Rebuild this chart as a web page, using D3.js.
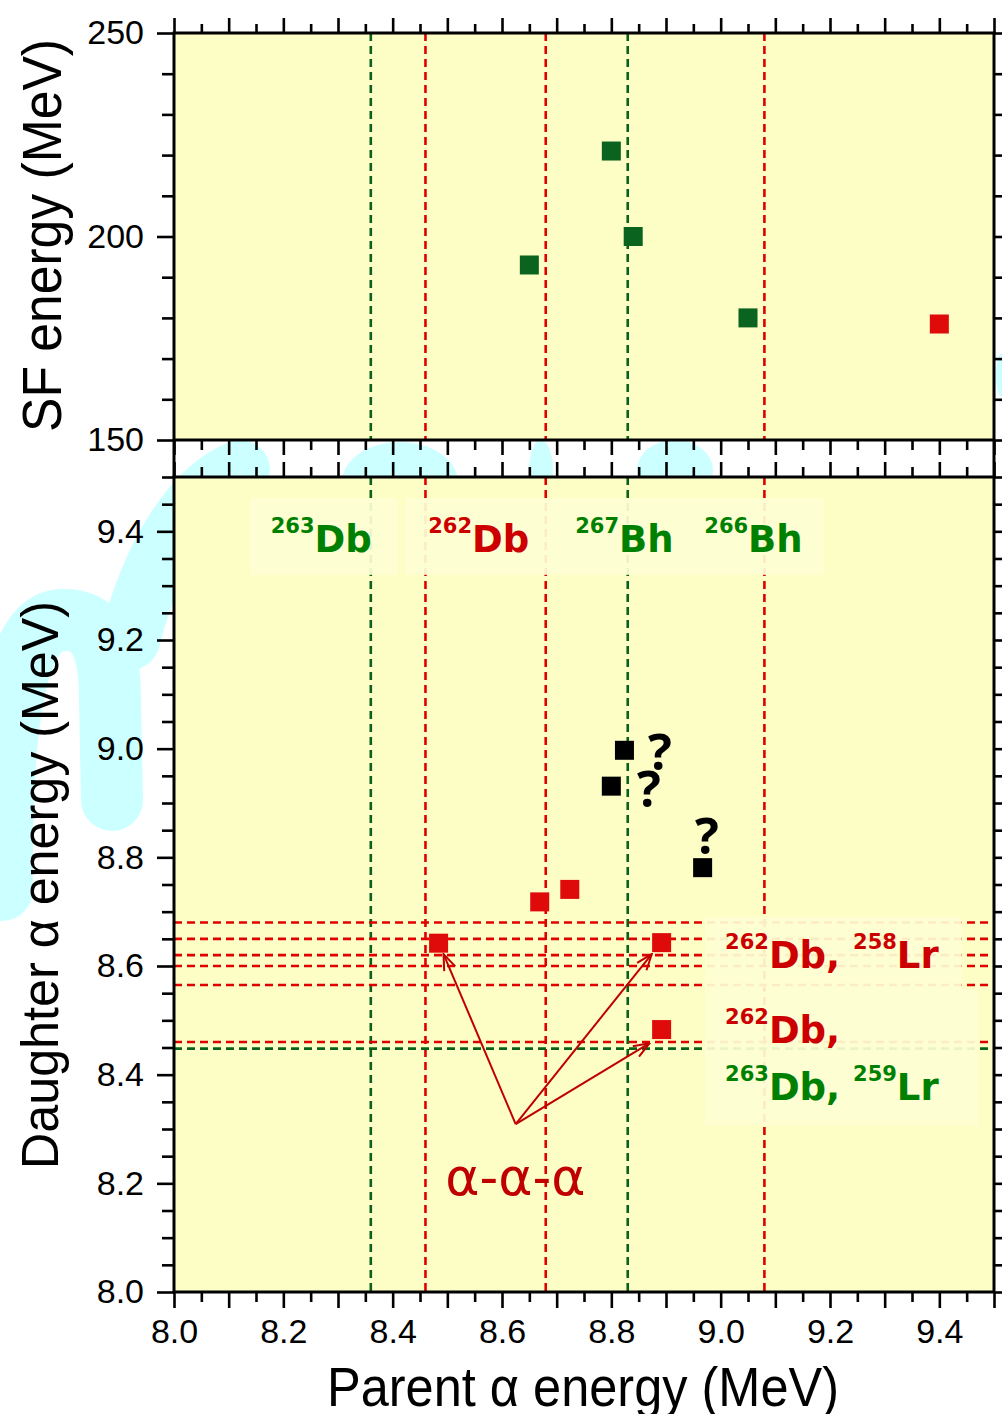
<!DOCTYPE html>
<html>
<head>
<meta charset="utf-8">
<script src="https://cdn.jsdelivr.net/npm/d3@7"></script>
<style>
  body { margin: 0; background: #fff; }
  svg { display: block; }
</style>
</head>
<body>
<svg id="chart" width="1002" height="1414"></svg>
<script>
// SF energy / daughter alpha energy vs parent alpha energy

// SF events (parent alpha MeV, SF energy MeV)
const sfGreen = [[8.65, 193], [8.80, 221], [8.84, 200], [9.05, 180]];
const sfRed = [[9.40, 178.5]];

// alpha-alpha correlations (parent MeV, daughter MeV)
const chainRed = [[8.484, 8.642], [8.892, 8.643], [8.892, 8.483], [8.669, 8.718], [8.724, 8.741]];
const chainBlack = [[8.824, 8.997], [8.80, 8.931], [8.967, 8.781]];

// known alpha lines
const parentGreen = [8.36, 8.83];
const parentRed = [8.46, 8.68, 9.08];
const daughterRed = [8.68, 8.65, 8.62, 8.60, 8.565, 8.46];
const daughterGreen = [8.448];

// alpha-alpha-alpha arrows
const arrowFrom = [8.625, 8.309];
const arrowTo = [[8.493, 8.622], [8.874, 8.622], [8.870, 8.458]];

// tick values
const xTicks = d3.range(0, 31).map(i => +(8 + i * 0.05).toFixed(2));
const daTicks = d3.range(0, 31).map(i => +(8 + i * 0.05).toFixed(2));
const sfTicks = d3.range(150, 251, 10);

// isotope labels: [text, isSup] parts, anchored at (parent, daughter)
const isoLabels = [
  {parts: [["263", 1], ["Db", 0]], at: [8.177, 9.362], green: true},
  {parts: [["262", 1], ["Db", 0]], at: [8.465, 9.362], green: false},
  {parts: [["267", 1], ["Bh", 0]], at: [8.734, 9.362], green: true},
  {parts: [["266", 1], ["Bh", 0]], at: [8.970, 9.362], green: true},
  {parts: [["262", 1], ["Db, ", 0], ["258", 1], ["Lr", 0]], at: [9.008, 8.596], green: false},
  {parts: [["262", 1], ["Db,", 0]], at: [9.008, 8.458], green: false},
  {parts: [["263", 1], ["Db, ", 0], ["259", 1], ["Lr", 0]], at: [9.008, 8.353], green: true}
];
// label backdrops [x0, x1, y0, y1] in data units
const labelBoxes = [
  [8.139, 8.408, 9.461, 9.320],
  [8.423, 9.189, 9.461, 9.320],
  [8.971, 9.441, 8.690, 8.556],
  [8.971, 9.471, 8.556, 8.307]
];
const questionMarks = [[8.867, 8.961], [8.847, 8.893], [8.953, 8.806]];

const RED = "#df0a0a";
const GREEN = "#0b6320";
const LINE_RED = "#e00000";
const LINE_GREEN = "#08621c";
const BG = "#fdfdc6";

let svg = d3.select("#chart");

let x = d3.scaleLinear().domain([8.0, 9.5]).range([174, 994]);
let ySF = d3.scaleLinear().domain([150, 250]).range([440, 33]);
let yA = d3.scaleLinear().domain([8.0, 9.5]).range([1292, 477]);

// faint watermark behind the plot (mostly hidden by the panels)
let wm = svg.append("g").attr("fill", "none").attr("stroke", "#ccffff").attr("stroke-linecap", "round");
wm.append("path").attr("d", "M 2,890 C 0,700 20,622 62,620 C 100,618 110,650 110,700 L 112,800").attr("stroke-width", 62);
wm.append("path").attr("d", "M 130,640 C 150,560 190,490 240,470").attr("stroke-width", 60);
let blobs = [[400, 482, 58, 40], [541, 470, 12, 30], [675, 470, 38, 30], [1002, 375, 6, 22]];
svg.append("g").selectAll("ellipse").data(blobs).join("ellipse")
  .attr("cx", d => d[0]).attr("cy", d => d[1]).attr("rx", d => d[2]).attr("ry", d => d[3])
  .attr("fill", "#ccffff");

// panel backgrounds
svg.append("rect").attr("x", x(8)).attr("y", ySF(250)).attr("width", x(9.5) - x(8)).attr("height", ySF(150) - ySF(250)).attr("fill", BG);
svg.append("rect").attr("x", x(8)).attr("y", yA(9.5)).attr("width", x(9.5) - x(8)).attr("height", yA(8) - yA(9.5)).attr("fill", BG);

// dashed reference lines
let lines = svg.append("g").attr("stroke-width", 2.6).attr("stroke-dasharray", "8,5").attr("fill", "none");
function vLines(values, color)
{
  [[ySF(250), ySF(150)], [yA(9.5), yA(8)]].forEach(function (span)
  {
    lines.selectAll(null).data(values).join("line")
      .attr("x1", d => x(d)).attr("x2", d => x(d))
      .attr("y1", span[0]).attr("y2", span[1])
      .attr("stroke", color);
  });
}
vLines(parentGreen, LINE_GREEN);
vLines(parentRed, LINE_RED);
lines.selectAll(null).data(daughterRed).join("line")
  .attr("x1", x(8)).attr("x2", x(9.5)).attr("y1", d => yA(d)).attr("y2", d => yA(d)).attr("stroke", LINE_RED);
lines.selectAll(null).data(daughterGreen).join("line")
  .attr("x1", x(8)).attr("x2", x(9.5)).attr("y1", d => yA(d)).attr("y2", d => yA(d)).attr("stroke", LINE_GREEN);

// label backdrops hide the lines
svg.append("g").selectAll("rect").data(labelBoxes).join("rect")
  .attr("x", d => x(d[0])).attr("width", d => x(d[1]) - x(d[0]))
  .attr("y", d => yA(d[2])).attr("height", d => yA(d[3]) - yA(d[2]))
  .attr("fill", "#fefed4").attr("opacity", 0.93);

// isotope labels
let labels = svg.append("g").attr("font-family", "DejaVu Sans").attr("font-weight", "bold");
isoLabels.forEach(function (lab)
{
  let t = labels.append("text")
    .attr("x", x(lab.at[0])).attr("y", yA(lab.at[1]))
    .attr("fill", lab.green ? "#008000" : "#cc0000");
  let lifted = false;
  lab.parts.forEach(function (p)
  {
    let dy = 0;
    if (p[1] && !lifted) { dy = -19; lifted = true; }
    else if (!p[1] && lifted) { dy = 19; lifted = false; }
    t.append("tspan").attr("dy", dy).attr("font-size", p[1] ? 21 : 37).text(p[0]);
  });
});

// alpha-alpha-alpha annotation
svg.append("defs").append("marker")
  .attr("id", "openArrow").attr("markerUnits", "userSpaceOnUse")
  .attr("viewBox", "0 0 18 14").attr("refX", 17).attr("refY", 7)
  .attr("markerWidth", 18).attr("markerHeight", 14).attr("orient", "auto")
  .append("path").attr("d", "M1,1 L17,7 L1,13")
  .attr("fill", "none").attr("stroke", "#c00000").attr("stroke-width", 2);
svg.append("g").selectAll("line").data(arrowTo).join("line")
  .attr("x1", x(arrowFrom[0])).attr("y1", yA(arrowFrom[1]))
  .attr("x2", d => x(d[0])).attr("y2", d => yA(d[1]))
  .attr("stroke", "#c00000").attr("stroke-width", 2)
  .attr("marker-end", "url(#openArrow)");
svg.append("text").attr("x", x(8.496)).attr("y", yA(8.178))
  .attr("font-family", "DejaVu Sans").attr("font-size", 52).attr("fill", "#c00000")
  .text("α-α-α");

// data points
const SQ = 19;
function squares(data, yScale, color)
{
  svg.append("g").selectAll("rect").data(data).join("rect")
    .attr("x", d => x(d[0]) - SQ / 2).attr("y", d => yScale(d[1]) - SQ / 2)
    .attr("width", SQ).attr("height", SQ).attr("fill", color);
}
squares(sfGreen, ySF, GREEN);
squares(sfRed, ySF, RED);
squares(chainRed, yA, RED);
squares(chainBlack, yA, "#000");

svg.append("g").selectAll("text").data(questionMarks).join("text")
  .attr("x", d => x(d[0])).attr("y", d => yA(d[1]))
  .attr("font-family", "Open Sans").attr("font-weight", "bold").attr("font-size", 50)
  .attr("fill", "#000").text("?");

// axes
function drawAxis(axisFn, scale, values, size, transform, fmt, padding)
{
  let g = svg.append("g").attr("transform", transform)
    .call(axisFn(scale).tickValues(values).tickSize(size).tickPadding(padding || 3).tickFormat(fmt || (() => "")));
  g.select(".domain").remove();
  g.selectAll("line").attr("stroke", "#000").attr("stroke-width", 2.6);
  g.selectAll("text").attr("font-family", "Liberation Sans").attr("font-size", 34).attr("fill", "#000");
  return g;
}
let xMajor = xTicks.filter(v => Math.round(v * 100) % 10 === 0);
let xMinor = xTicks.filter(v => Math.round(v * 100) % 10 !== 0);
let daMajor = daTicks.filter(v => Math.round(v * 100) % 20 === 0);
let daMinor = daTicks.filter(v => Math.round(v * 100) % 20 !== 0);
let sfMajor = sfTicks.filter(v => v % 50 === 0);
let sfMinor = sfTicks.filter(v => v % 50 !== 0);
let xLabel = v => (Math.round(v * 100) % 20 === 0 ? d3.format(".1f")(v) : "");

// top panel
drawAxis(d3.axisTop, x, xMajor, 15, `translate(0,${ySF(250)})`);
drawAxis(d3.axisTop, x, xMinor, 9, `translate(0,${ySF(250)})`);
drawAxis(d3.axisBottom, x, xMajor, 15, `translate(0,${ySF(150)})`);
drawAxis(d3.axisBottom, x, xMinor, 10, `translate(0,${ySF(150)})`);
drawAxis(d3.axisLeft, ySF, sfMajor, 17, `translate(${x(8)},0)`, d3.format("d"), 13);
drawAxis(d3.axisLeft, ySF, sfMinor, 12, `translate(${x(8)},0)`);
drawAxis(d3.axisRight, ySF, sfMajor, 17, `translate(${x(9.5)},0)`);
drawAxis(d3.axisRight, ySF, sfMinor, 12, `translate(${x(9.5)},0)`);

// bottom panel
drawAxis(d3.axisTop, x, xMajor, 15, `translate(0,${yA(9.5)})`);
drawAxis(d3.axisTop, x, xMinor, 10, `translate(0,${yA(9.5)})`);
drawAxis(d3.axisBottom, x, xMajor, 16, `translate(0,${yA(8)})`, xLabel, 11);
drawAxis(d3.axisBottom, x, xMinor, 10, `translate(0,${yA(8)})`);
drawAxis(d3.axisLeft, yA, daMajor, 17, `translate(${x(8)},0)`, d3.format(".1f"), 13);
drawAxis(d3.axisLeft, yA, daMinor, 12, `translate(${x(8)},0)`);
drawAxis(d3.axisRight, yA, daMajor, 17, `translate(${x(9.5)},0)`);
drawAxis(d3.axisRight, yA, daMinor, 12, `translate(${x(9.5)},0)`);

// frames
let frame = svg.append("g").attr("fill", "none").attr("stroke", "#000").attr("stroke-width", 3);
frame.append("rect").attr("x", x(8)).attr("y", ySF(250)).attr("width", x(9.5) - x(8)).attr("height", ySF(150) - ySF(250));
frame.append("rect").attr("x", x(8)).attr("y", yA(9.5)).attr("width", x(9.5) - x(8)).attr("height", yA(8) - yA(9.5));
frame.append("line").attr("x1", x(8)).attr("x2", x(8)).attr("y1", ySF(150)).attr("y2", yA(9.5));
frame.append("line").attr("x1", x(9.5)).attr("x2", x(9.5)).attr("y1", ySF(150)).attr("y2", yA(9.5));

// axis titles
let titles = svg.append("g").attr("font-family", "Liberation Sans").attr("fill", "#000");
titles.append("text").attr("transform", "translate(61,235.5) rotate(-90)")
  .attr("text-anchor", "middle").attr("font-size", 56)
  .attr("textLength", 393).attr("lengthAdjust", "spacingAndGlyphs")
  .text("SF energy (MeV)");
titles.append("text").attr("transform", "translate(58,885) rotate(-90)")
  .attr("text-anchor", "middle").attr("font-size", 52)
  .attr("textLength", 568).attr("lengthAdjust", "spacingAndGlyphs")
  .text("Daughter α energy (MeV)");
titles.append("text").attr("x", 583).attr("y", 1406)
  .attr("text-anchor", "middle").attr("font-size", 56)
  .attr("textLength", 512).attr("lengthAdjust", "spacingAndGlyphs")
  .text("Parent α energy (MeV)");
</script>
</body>
</html>
